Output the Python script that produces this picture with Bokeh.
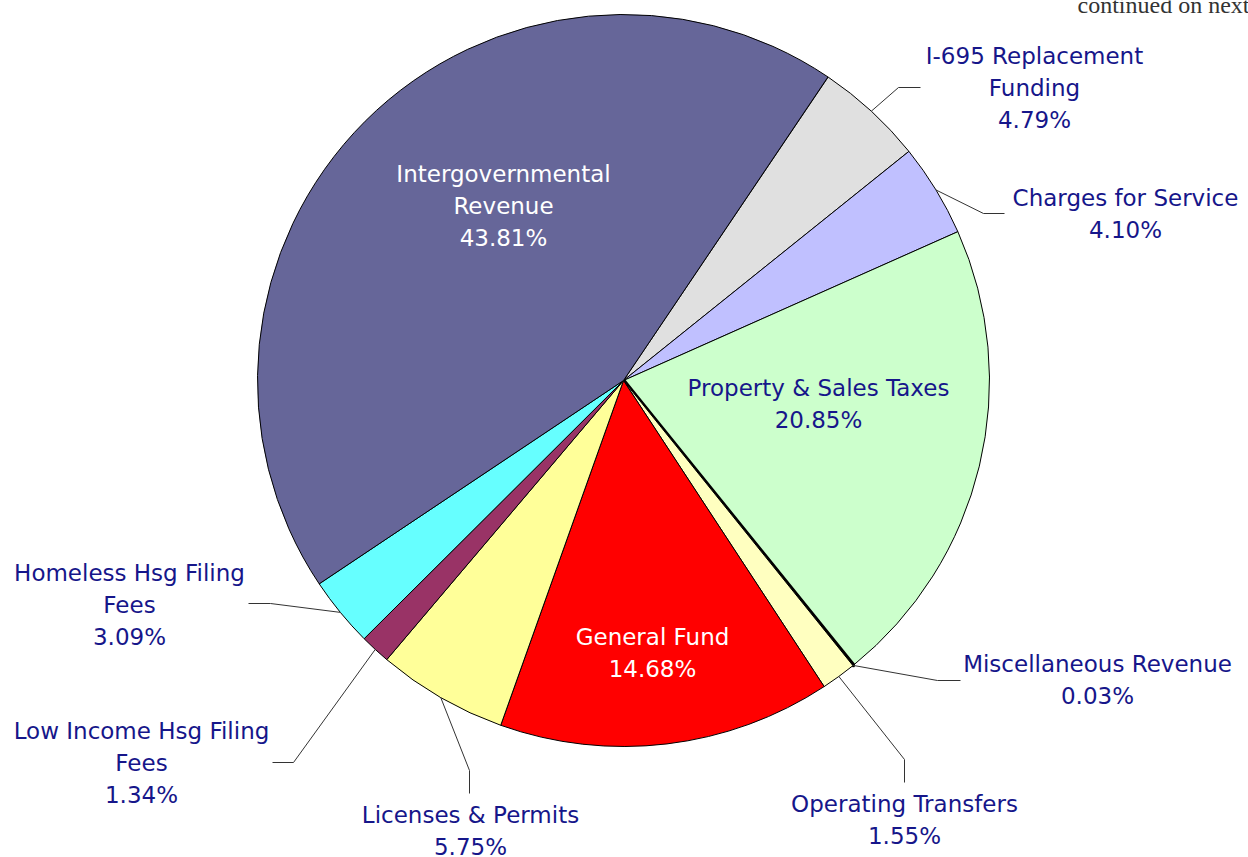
import numpy as np
from bokeh.plotting import figure
from bokeh.models import ColumnDataSource, Range1d
from bokeh.embed import file_html
from bokeh.resources import INLINE
from bokeh.core.properties import value

# ---- data (clockwise order starting at the top-right) ----
categories = [
    "I-695 Replacement\nFunding",
    "Charges for Service",
    "Property & Sales Taxes",
    "Miscellaneous Revenue",
    "Operating Transfers",
    "General Fund",
    "Licenses & Permits",
    "Low Income Hsg Filing\nFees",
    "Homeless Hsg Filing\nFees",
    "Intergovernmental\nRevenue",
]
shares = [4.79, 4.10, 20.85, 0.03, 1.55, 14.68, 5.75, 1.34, 3.09, 43.81]
colors = ["#E0E0E0", "#C0C0FF", "#CCFFCC", "#000000", "#FFFFC0",
          "#FF0000", "#FFFF99", "#993366", "#66FFFF", "#666699"]
label_colors = ["#16168A"] * 5 + ["#FFFFFF"] + ["#16168A"] * 3 + ["#FFFFFF"]

# ---- layout (page pixels) ----
W, H = 1248, 857
def px(x): return x
def py(y): return H - y

cx, cy, R = px(623), py(380), 366
start_deg = 56.0

# label anchor: center x, first-line center y (page px)
label_pos = [(1034, 55), (1125, 197), (818, 387), (1097, 663), (904, 803),
             (652, 636), (470, 814), (141, 730), (129, 572), (503, 173)]
# leader lines: elbow and end (page px); None = no leader
leaders = [((898, 87), (920, 87)), ((983, 213), (1004, 213)), None,
           ((937, 680), (960, 680)), ((904, 759), (904, 782)), None,
           ((469, 770), (469, 793)), ((293, 762), (272, 762)),
           ((270, 603), (248, 603)), None]

p = figure(width=W, height=H, x_range=Range1d(0, W), y_range=Range1d(0, H),
           output_backend="svg", toolbar_location=None, min_border=0)
p.axis.visible = False
p.grid.visible = False
p.outline_line_color = None
p.background_fill_color = "white"

sh = np.array(shares)
cum = np.concatenate([[0], np.cumsum(sh)])
start = np.deg2rad(start_deg - cum[1:] * 3.6)
end = np.deg2rad(start_deg - cum[:-1] * 3.6)
mid = (start + end) / 2

src = ColumnDataSource(dict(start=start, end=end, color=colors,
                            lw=[4 if s < 0.1 else 1 for s in shares]))
p.wedge(x=cx, y=cy, radius=R, start_angle="start", end_angle="end",
        fill_color="color", line_color="black", line_width="lw", source=src)

# leader lines
for i, ld in enumerate(leaders):
    if ld is None:
        continue
    sx = cx + R * np.cos(mid[i])
    sy = cy + R * np.sin(mid[i])
    (ex, ey), (fx, fy) = ld
    p.line([sx, px(ex), px(fx)], [sy, py(ey), py(fy)], line_color="#333333", line_width=1)

# labels
tx, ty, tt, tc = [], [], [], []
for i, name in enumerate(categories):
    lines = name.split("\n") + [f"{shares[i]:.2f}%"]
    lx, ly = label_pos[i]
    for k, ln in enumerate(lines):
        tx.append(px(lx)); ty.append(py(ly + 32 * k)); tt.append(ln); tc.append(label_colors[i])
p.text(x="x", y="y", text="t", text_color="c",
       source=ColumnDataSource(dict(x=tx, y=ty, t=tt, c=tc)),
       text_font=value("DejaVu Sans"), text_font_size="23px",
       text_align="center", text_baseline="middle")

p.text(x=[px(1077)], y=[py(4)], text=["continued on next page"],
       text_font=value("Liberation Serif"), text_font_size="24px",
       text_color="#333333", text_align="left", text_baseline="alphabetic")

open("out.html", "w").write(file_html(p, INLINE))
